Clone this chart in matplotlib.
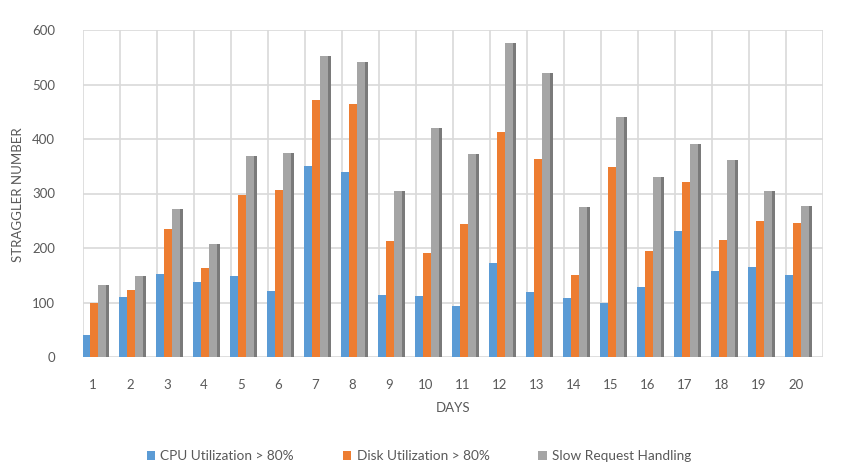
import matplotlib.pyplot as plt
import numpy as np

# dados
days = list(range(1, 21))
cpu = [40, 110, 152, 137, 148, 122, 350, 340, 113, 112, 94, 172, 120, 109, 99, 128, 232, 158, 166, 150]
disk = [100, 123, 235, 163, 297, 307, 472, 464, 212, 190, 244, 412, 364, 151, 348, 195, 322, 215, 250, 245]
slow = [132, 148, 272, 207, 368, 374, 552, 542, 305, 420, 372, 577, 521, 276, 440, 330, 391, 362, 304, 277]
labels = ['CPU Utilization > 80%', 'Disk Utilization > 80%', 'Slow Request Handling']

plt.rcParams['font.family'] = ['Lato', 'DejaVu Sans']
cinza_txt = '#595959'
grade = '#d9d9d9'

fig = plt.figure(figsize=(8.5, 4.66), dpi=100)
ax = fig.add_axes([83/850, 1-357/466, 740/850, 327/466])

x = np.array(days)
w = 0.215
ax.bar(x - 0.365, cpu, width=w, align='edge', color='#5B9BD5', label=labels[0], zorder=3)
ax.bar(x - 0.15, disk, width=w, align='edge', color='#ED7D31', label=labels[1], zorder=3)
ax.bar(x + 0.065, slow, width=w, align='edge', color='#A5A5A5', label=labels[2], zorder=3)
# face lateral (efeito 3D)
ax.bar(x + 0.28, slow, width=0.08, align='edge', color='#7a7a7a', zorder=3)

# grade da parede
for g in np.arange(0.65, 21, 1):
    ax.axvline(g, color=grade, lw=1.2, zorder=0)
for h in range(0, 700, 100):
    ax.axhline(h, color=grade, lw=1.2, zorder=0)

ax.set_xlim(0.65, 20.65)
ax.set_ylim(0, 600)
ax.set_xticks(x - 0.08)
ax.set_xticklabels([str(d) for d in days])
ax.set_yticks(range(0, 700, 100))
for s in ax.spines.values():
    s.set_visible(False)
ax.tick_params(length=0, colors=cinza_txt, labelsize=9.5)
ax.tick_params(axis='y', pad=20)
ax.tick_params(axis='x', pad=16)

ax.set_xlabel('DAYS', color=cinza_txt, fontsize=9.5, labelpad=8)
fig.text(18/850, 1-195/466, 'STRAGGLER NUMBER', rotation=90, color=cinza_txt,
         fontsize=9.5, ha='center', va='center')

fig.legend(loc='center', bbox_to_anchor=(419/850, 1-456/466), ncol=3, frameon=False,
           handlelength=0.6, handleheight=0.6, handletextpad=0.4, columnspacing=3.6,
           fontsize=9.8, labelcolor=cinza_txt)

fig.savefig('out.png', dpi=100)
